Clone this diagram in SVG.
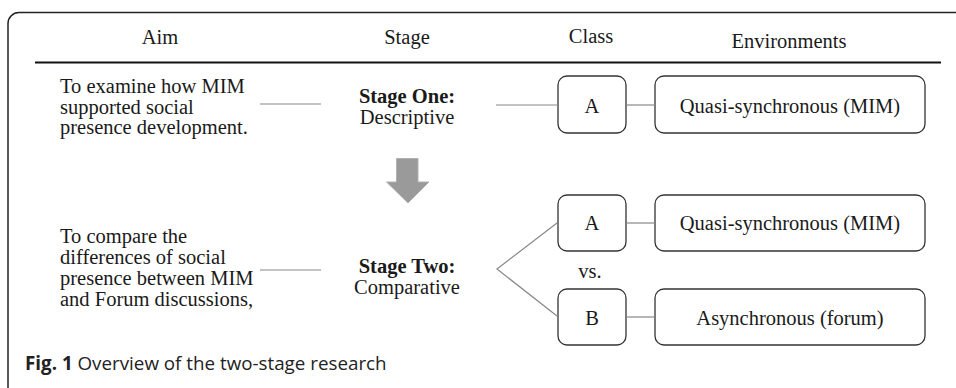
<svg xmlns="http://www.w3.org/2000/svg" width="956" height="388" viewBox="0 0 956 388">
<style>
.t{font-family:"Liberation Serif","Times New Roman",serif;font-size:20.5px;fill:#1a1a1a}
.c{text-anchor:middle}
.b{font-weight:bold}
.box{fill:#fff;stroke:#333;stroke-width:1.3}
.con{stroke:#888;stroke-width:1.2;fill:none}
.cap{font-family:"Open Sans","Noto Sans","Liberation Sans",sans-serif;font-size:18.8px;fill:#222}
</style>
<rect x="8" y="12.5" width="970" height="390" rx="11" fill="#fff" stroke="#222" stroke-width="1.5"/>
<line x1="35" y1="62.5" x2="941" y2="62.5" stroke="#111" stroke-width="2.2"/>
<g id="headers">
<text class="t c" x="160" y="44">Aim</text>
<text class="t c" x="407" y="43.5">Stage</text>
<text class="t c" x="591" y="43">Class</text>
<text class="t c" x="789" y="47.5">Environments</text>
</g>
<g id="aim1">
<text class="t" x="60" y="93">To examine how MIM</text>
<text class="t" x="60" y="113.5">supported social</text>
<text class="t" x="60" y="134">presence development.</text>
</g>
<g id="stage1">
<text class="t c b" x="407" y="103">Stage One:</text>
<text class="t c" x="407" y="123.5">Descriptive</text>
</g>
<g id="class1A">
<rect class="box" x="558" y="76" width="68" height="57" rx="9"/>
<text class="t c" x="592" y="113">A</text>
</g>
<g id="env1">
<rect class="box" x="655" y="76" width="270" height="57" rx="9"/>
<text class="t c" x="790" y="113">Quasi-synchronous (MIM)</text>
</g>
<g id="arrow">
<path d="M396.5 158.5 H418 V182 H429 L408 203 L386.5 182 H396.5 Z" fill="#9a9a9a" stroke="#b0b0b0" stroke-width="1"/>
</g>
<g id="aim2">
<text class="t" x="60" y="242.5">To compare the</text>
<text class="t" x="60" y="263.5">differences of social</text>
<text class="t" x="60" y="284.5">presence between MIM</text>
<text class="t" x="60" y="305.5">and Forum discussions,</text>
</g>
<g id="stage2">
<text class="t c b" x="407" y="273">Stage Two:</text>
<text class="t c" x="407" y="294">Comparative</text>
</g>
<g id="class2A">
<rect class="box" x="558" y="195" width="68" height="56" rx="9"/>
<text class="t c" x="592" y="230">A</text>
</g>
<g id="env2A">
<rect class="box" x="655" y="195" width="270" height="56" rx="9"/>
<text class="t c" x="790" y="230">Quasi-synchronous (MIM)</text>
</g>
<g id="vs">
<text class="t c" x="590" y="278">vs.</text>
</g>
<g id="class2B">
<rect class="box" x="558" y="289" width="68" height="56" rx="9"/>
<text class="t c" x="592" y="325">B</text>
</g>
<g id="env2B">
<rect class="box" x="655" y="289" width="270" height="56" rx="9"/>
<text class="t c" x="790" y="325">Asynchronous (forum)</text>
</g>
<g id="connectors">
<line class="con" x1="260" y1="104" x2="321" y2="104"/>
<line class="con" x1="496" y1="105" x2="558" y2="105"/>
<line class="con" x1="626" y1="105" x2="655" y2="105"/>
<line class="con" x1="260" y1="270" x2="321" y2="270"/>
<polyline class="con" points="557,223 497,269 557,316"/>
<line class="con" x1="626" y1="223" x2="655" y2="223"/>
<line class="con" x1="626" y1="317" x2="655" y2="317"/>
</g>
<g id="caption">
<text class="cap" x="25" y="370"><tspan font-weight="bold">Fig. 1</tspan> Overview of the two-stage research</text>
</g>
</svg>
